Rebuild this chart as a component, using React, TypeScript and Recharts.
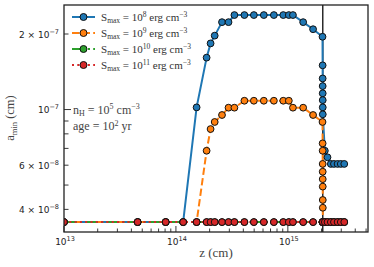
import React from "react";
import { LineChart, Line, XAxis, YAxis, ReferenceLine, Legend } from "recharts";

document.body.style.margin = "0";

// z (cm) of the snapshots, shared by the first part of every run
const zLead = [
  1e13, 4.55e13, 8.1e13, 1.16e14, 1.53e14, 1.88e14, 2.04e14, 2.22e14, 2.58e14, 2.95e14,
  3.33e14, 4.09e14, 4.97e14, 6.1e14, 7.5e14, 9.1e14, 1.02e15, 1.11e15, 1.37e15, 1.68e15, 2.04e15,
];
const zTail = [2.14e15, 2.26e15, 2.42e15, 2.58e15, 2.78e15, 2.97e15, 3.19e15];

// S_max = 1e8
const zS8 = [...zLead, 2.045e15, 2.046e15, 2.047e15, 2.048e15, 2.049e15, 2.05e15, 2.051e15, ...zTail];
const aS8 = [
  3.56e-8, 3.56e-8, 3.56e-8, 3.56e-8, 1.02e-7, 1.61e-7, 1.835e-7, 1.97e-7, 2.23e-7, 2.23e-7,
  2.38e-7, 2.38e-7, 2.38e-7, 2.38e-7, 2.38e-7, 2.38e-7, 2.38e-7, 2.38e-7, 2.23e-7, 2.09e-7, 1.95e-7,
  1.5e-7, 1.33e-7, 1.24e-7, 1.16e-7, 1.09e-7, 1.02e-7, 9.57e-8,
  6.85e-8, 6.45e-8, 6.07e-8, 6.07e-8, 6.07e-8, 6.07e-8, 6.07e-8,
];

// S_max = 1e9
const zS9 = [...zLead, 2.045e15, 2.046e15, 2.047e15, 2.048e15, 2.049e15, 2.05e15, 2.051e15, 2.052e15, 2.053e15, ...zTail];
const aS9 = [
  3.56e-8, 3.56e-8, 3.56e-8, 3.56e-8, 3.56e-8, 6.85e-8, 8.36e-8, 8.92e-8, 9.51e-8, 1.017e-7,
  1.017e-7, 1.084e-7, 1.084e-7, 1.084e-7, 1.084e-7, 1.084e-7, 1.084e-7, 1.017e-7, 1.017e-7, 9.51e-8, 8.92e-8,
  7.33e-8, 6.85e-8, 6.07e-8, 5.65e-8, 5.28e-8, 4.93e-8, 4.36e-8, 4.06e-8, 3.56e-8,
  3.56e-8, 3.56e-8, 3.56e-8, 3.56e-8, 3.56e-8, 3.56e-8, 3.56e-8,
];

// S_max = 1e10 and 1e11 stay at the floor
const zFlat = [...zLead, 2.048e15, 2.052e15, ...zTail];
const aS10 = [
  3.56e-8, 3.56e-8, 3.56e-8, 3.56e-8, 3.56e-8, 3.56e-8, 3.56e-8, 3.56e-8, 3.56e-8, 3.56e-8,
  3.56e-8, 3.56e-8, 3.56e-8, 3.56e-8, 3.56e-8, 3.56e-8, 3.56e-8, 3.56e-8, 3.56e-8, 3.56e-8, 3.56e-8,
  3.56e-8, 3.56e-8, 3.56e-8, 3.56e-8, 3.56e-8, 3.56e-8, 3.56e-8, 3.56e-8, 3.56e-8,
];
const aS11 = [
  3.56e-8, 3.56e-8, 3.56e-8, 3.56e-8, 3.56e-8, 3.56e-8, 3.56e-8, 3.56e-8, 3.56e-8, 3.56e-8,
  3.56e-8, 3.56e-8, 3.56e-8, 3.56e-8, 3.56e-8, 3.56e-8, 3.56e-8, 3.56e-8, 3.56e-8, 3.56e-8, 3.56e-8,
  3.56e-8, 3.56e-8, 3.56e-8, 3.56e-8, 3.56e-8, 3.56e-8, 3.56e-8, 3.56e-8, 3.56e-8,
];

const zCut = 2.05e15;

const xTicks = [
  1e13, 2e13, 3e13, 4e13, 5e13, 6e13, 7e13, 8e13, 9e13,
  1e14, 2e14, 3e14, 4e14, 5e14, 6e14, 7e14, 8e14, 9e14,
  1e15, 2e15, 3e15, 4e15, 5e15,
];
const xLabels: Record<number, string> = { 1e13: "13", 1e14: "14", 1e15: "15" };
const yTicks = [4e-8, 5e-8, 6e-8, 7e-8, 8e-8, 9e-8, 1e-7, 2e-7];
const yLabels: Record<number, [string, string]> = {
  2e-7: ["2 × ", "−7"],
  1e-7: ["", "−7"],
  6e-8: ["6 × ", "−8"],
  4e-8: ["4 × ", "−8"],
};

const series = [
  { name: "8", z: zS8, a: aS8, color: "#1f77b4", dash: undefined },
  { name: "9", z: zS9, a: aS9, color: "#ff7f0e", dash: "7.4 3.2" },
  { name: "10", z: zFlat, a: aS10, color: "#2ca02c", dash: "12.8 3.2 2 3.2" },
  { name: "11", z: zFlat, a: aS11, color: "#d62728", dash: "2 3.3" },
];

const rows = (z: number[], a: number[]) => z.map((v, i) => ({ z: v, a: a[i] }));

const serif = "'Liberation Serif', serif";
const sans = "'DejaVu Sans', sans-serif";

const XTick = ({ x, y, payload }: any) => {
  const exp = xLabels[payload.value];
  return (
    <g>
      <line x1={x} x2={x} y1={y} y2={y - (exp ? 6 : 3.5)} stroke="#222" strokeWidth={0.9} />
      {exp && (
        <text x={x + 1} y={y + 12.5} textAnchor="middle" fontSize={9} fontFamily={sans} fill="#222">
          10<tspan dy={-4} fontSize={6.5}>{exp}</tspan>
        </text>
      )}
    </g>
  );
};

const YTick = ({ x, y, payload }: any) => {
  const lab = yLabels[payload.value];
  const major = payload.value === 1e-7;
  return (
    <g>
      <line x1={x} x2={x + (major ? 7 : 4.5)} y1={y} y2={y} stroke="#222" strokeWidth={0.9} />
      {lab && (
        <text x={x - 5} y={y + 3.5} textAnchor="end" fontSize={9} fontFamily={sans} fill="#222">
          {lab[0]}10<tspan dy={-4} fontSize={6.5}>{lab[1]}</tspan>
        </text>
      )}
    </g>
  );
};

const renderLegend = () => (
  <svg width={140} height={70}>
    {series.map((s, i) => {
      const cy = 10 + i * 16;
      return (
        <g key={s.name}>
          <line x1={6} x2={29} y1={cy} y2={cy} stroke={s.color} strokeWidth={2} strokeDasharray={s.dash} />
          <circle cx={17.5} cy={cy} r={3.5} fill={s.color} stroke="#111" strokeWidth={1} />
          <text x={35} y={cy + 3.5} fontSize={11} fontFamily={serif} fill="#333">
            S<tspan fontSize={7.5} dy={2.5}>max</tspan>
            <tspan dy={-2.5}> = 10</tspan>
            <tspan fontSize={7.5} dy={-4}>{s.name}</tspan>
            <tspan dy={4}> erg cm</tspan>
            <tspan fontSize={7.5} dy={-4}>−3</tspan>
          </text>
        </g>
      );
    })}
  </svg>
);

export default function App() {
  return (
    <div style={{ position: "relative", width: 374, height: 267, background: "#fff" }}>
      <LineChart width={374} height={267} margin={{ top: 5, right: 6, bottom: 0, left: 0 }}>
        <XAxis
          dataKey="z"
          type="number"
          scale="log"
          domain={[1e13, 5.2e15]}
          allowDataOverflow
          ticks={xTicks}
          interval={0}
          height={35}
          tickSize={0}
          tickMargin={0}
          axisLine={false}
          tick={<XTick />}
        />
        <YAxis
          type="number"
          scale="log"
          domain={[3.25e-8, 2.61e-7]}
          allowDataOverflow
          ticks={yTicks}
          interval={0}
          width={64}
          tickSize={0}
          tickMargin={0}
          axisLine={false}
          tick={<YTick />}
        />
        <ReferenceLine x={zCut} stroke="#2b2b2b" strokeWidth={1.5} />
        {series.map((s) => (
          <Line
            key={s.name}
            data={rows(s.z, s.a)}
            dataKey="a"
            stroke={s.color}
            strokeWidth={2}
            strokeDasharray={s.dash}
            dot={{ r: 3.4, fill: s.color, stroke: "#111", strokeWidth: 1, strokeDasharray: "" }}
            isAnimationActive={false}
          />
        ))}
        <Legend
          layout="vertical"
          align="center"
          verticalAlign="middle"
          content={renderLegend}
          wrapperStyle={{ left: 66, top: 7, width: 140, height: 70 }}
        />
      </LineChart>
      <svg
        width={374}
        height={267}
        style={{ position: "absolute", left: 0, top: 0, pointerEvents: "none" }}
      >
        <rect x={64} y={5} width={304} height={227} fill="none" stroke="#222" strokeWidth={1.3} />
        <text x={73} y={113.5} fontSize={12} fontFamily={serif} fill="#444">
          n<tspan fontSize={8} dy={2.5}>H</tspan>
          <tspan dy={-2.5}> = 10</tspan>
          <tspan fontSize={8} dy={-4.5}>5</tspan>
          <tspan dy={4.5}> cm</tspan>
          <tspan fontSize={8} dy={-4.5}>−3</tspan>
        </text>
        <text x={73} y={130} fontSize={12} fontFamily={serif} fill="#444">
          age = 10<tspan fontSize={8} dy={-4.5}>2</tspan>
          <tspan dy={4.5}> yr</tspan>
        </text>
        <text x={216} y={257} textAnchor="middle" fontSize={13} fontFamily={serif} fill="#444">
          z (cm)
        </text>
        <text transform="translate(14,118) rotate(-90)" textAnchor="middle" fontSize={12.5} fontFamily={serif} fill="#444">
          a<tspan fontSize={8.5} dy={2.5}>min</tspan>
          <tspan dy={-2.5}> (cm)</tspan>
        </text>
      </svg>
    </div>
  );
}
